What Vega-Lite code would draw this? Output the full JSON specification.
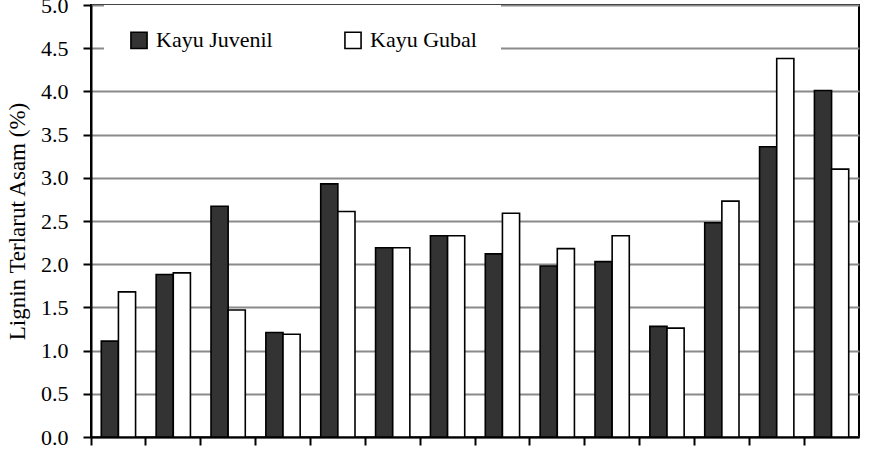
{
  "$schema": "https://vega.github.io/schema/vega-lite/v6.json",
  "autosize": {"type": "none"},
  "width": 768,
  "height": 432,
  "padding": {"left": 91, "top": 5, "right": 11, "bottom": 17},
  "background": "white",
  "config": {
    "font": "Liberation Serif",
    "view": {"stroke": "black", "strokeWidth": 2}
  },
  "data": {
    "values": [
      {"group": 1, "series": "Kayu Juvenil", "value": 1.11},
      {"group": 1, "series": "Kayu Gubal", "value": 1.68},
      {"group": 2, "series": "Kayu Juvenil", "value": 1.88},
      {"group": 2, "series": "Kayu Gubal", "value": 1.90},
      {"group": 3, "series": "Kayu Juvenil", "value": 2.67},
      {"group": 3, "series": "Kayu Gubal", "value": 1.47},
      {"group": 4, "series": "Kayu Juvenil", "value": 1.21},
      {"group": 4, "series": "Kayu Gubal", "value": 1.19},
      {"group": 5, "series": "Kayu Juvenil", "value": 2.93},
      {"group": 5, "series": "Kayu Gubal", "value": 2.61},
      {"group": 6, "series": "Kayu Juvenil", "value": 2.19},
      {"group": 6, "series": "Kayu Gubal", "value": 2.19},
      {"group": 7, "series": "Kayu Juvenil", "value": 2.33},
      {"group": 7, "series": "Kayu Gubal", "value": 2.33},
      {"group": 8, "series": "Kayu Juvenil", "value": 2.12},
      {"group": 8, "series": "Kayu Gubal", "value": 2.59},
      {"group": 9, "series": "Kayu Juvenil", "value": 1.98},
      {"group": 9, "series": "Kayu Gubal", "value": 2.18},
      {"group": 10, "series": "Kayu Juvenil", "value": 2.03},
      {"group": 10, "series": "Kayu Gubal", "value": 2.33},
      {"group": 11, "series": "Kayu Juvenil", "value": 1.28},
      {"group": 11, "series": "Kayu Gubal", "value": 1.26},
      {"group": 12, "series": "Kayu Juvenil", "value": 2.48},
      {"group": 12, "series": "Kayu Gubal", "value": 2.73},
      {"group": 13, "series": "Kayu Juvenil", "value": 3.36},
      {"group": 13, "series": "Kayu Gubal", "value": 4.38},
      {"group": 14, "series": "Kayu Juvenil", "value": 4.01},
      {"group": 14, "series": "Kayu Gubal", "value": 3.10}
    ]
  },
  "mark": {"type": "bar", "stroke": "black", "strokeWidth": 1.6},
  "encoding": {
    "x": {
      "field": "group",
      "type": "ordinal",
      "scale": {"paddingInner": 0, "paddingOuter": 0},
      "axis": {
        "title": null,
        "labels": false,
        "bandPosition": 0,
        "ticks": true,
        "tickSize": 8,
        "tickWidth": 2,
        "tickColor": "black",
        "domainColor": "black",
        "domainWidth": 2,
        "grid": false
      }
    },
    "xOffset": {
      "field": "series",
      "type": "nominal",
      "sort": ["Kayu Juvenil", "Kayu Gubal"],
      "scale": {"domain": ["Kayu Juvenil", "Kayu Gubal"], "paddingInner": 0, "paddingOuter": 0.6}
    },
    "y": {
      "field": "value",
      "type": "quantitative",
      "scale": {"domain": [0, 5], "nice": false},
      "axis": {
        "title": "Lignin Terlarut Asam (%)",
        "titleFont": "Liberation Serif",
        "titleFontSize": 23,
        "titleFontWeight": "normal",
        "titleColor": "black",
        "titlePadding": 11,
        "values": [0, 0.5, 1, 1.5, 2, 2.5, 3, 3.5, 4, 4.5, 5],
        "format": ".1f",
        "labelFont": "Liberation Serif",
        "labelFontSize": 22,
        "labelColor": "black",
        "labelPadding": 15,
        "tickSize": 8,
        "tickWidth": 2,
        "tickColor": "black",
        "domainColor": "black",
        "domainWidth": 2,
        "grid": true,
        "gridColor": "#8a8a8a",
        "gridWidth": 1.8
      }
    },
    "fill": {
      "field": "series",
      "type": "nominal",
      "scale": {"domain": ["Kayu Juvenil", "Kayu Gubal"], "range": ["#333333", "#ffffff"]},
      "legend": {
        "title": null,
        "orient": "none",
        "direction": "horizontal",
        "legendX": 13,
        "legendY": 0,
        "padding": 24,
        "fillColor": "white",
        "symbolType": "square",
        "symbolSize": 260,
        "symbolStrokeColor": "black",
        "symbolStrokeWidth": 1.6,
        "labelFont": "Liberation Serif",
        "labelFontSize": 22,
        "labelColor": "black",
        "labelOffset": 6,
        "columnPadding": 68,
        "labelLimit": 300
      }
    }
  }
}
